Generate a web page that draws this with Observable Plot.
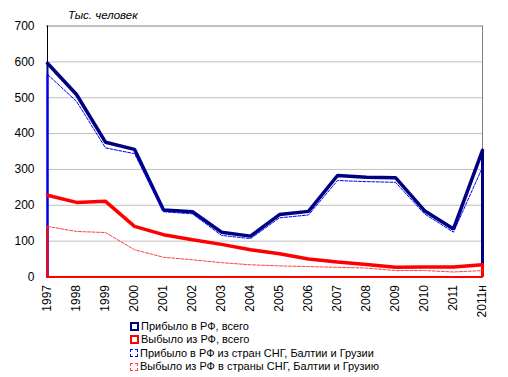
<!DOCTYPE html>
<html>
<head>
<meta charset="utf-8">
<script src="https://cdn.jsdelivr.net/npm/d3@7"></script>
<script src="https://cdn.jsdelivr.net/npm/@observablehq/plot@0.6"></script>
<style>
  body { margin: 0; background: #fff; font-family: "Liberation Sans", Arial, sans-serif; }
  #wrap { position: relative; width: 508px; height: 377px; }
  #unit { position: absolute; left: 68px; top: 9px; font-size: 11.5px; font-style: italic; color: #000; }
  #legend { position: absolute; left: 130px; top: 320px; font-size: 11px; line-height: 13px; color: #000; }
  .row { display: flex; align-items: center; height: 13.3px; white-space: nowrap; }
  .sw { width: 5px; height: 5px; margin-right: 2px; box-sizing: content-box; }
</style>
</head>
<body>
<div id="wrap">
  <div id="chart"></div>
  <div id="unit">Тыс. человек</div>
  <div id="legend"></div>
</div>
<script>
const years = ["1997","1998","1999","2000","2001","2002","2003","2004","2005","2006","2007","2008","2009","2010","2011","2011н"];
const arrivedTotal = [596,509,376,356,187,182,125,114,174,183,283,278,277,185,134,353];
const departedTotal = [228,208,211,141,118,104,91,76,65,50,42,35,27,28,28,34];
const arrivedCIS = [565,490,360,344,182,176,116,107,165,173,269,266,264,176,125,306];
const departedCIS = [141,127,124,76,55,48,40,34,31,29,27,25,18,18,14,18];
const yTicks = [0,100,200,300,400,500,600,700];
const seriesNames = [
  "Прибыло в РФ, всего",
  "Выбыло из РФ, всего",
  "Прибыло в РФ из стран СНГ, Балтии и Грузии",
  "Выбыло из РФ в страны СНГ, Балтии и Грузию"
];

const toRows = arr => arr.map((v, i) => ({year: years[i], v}));
const first = years[0], last = years[years.length - 1];

const chart = Plot.plot({
  width: 508,
  height: 320,
  marginLeft: 46,
  marginRight: 25.3,
  marginTop: 25.5,
  marginBottom: 43.5,
  style: {fontFamily: "'Liberation Sans', Arial, sans-serif", fontSize: "12px", color: "#000", background: "#fff"},
  x: {type: "point", domain: years, padding: 0, tickSize: 0, tickPadding: 8, tickRotate: -90, label: null},
  y: {domain: [0, 700], ticks: yTicks, tickSize: 0, tickPadding: 12, label: null},
  marks: [
    Plot.ruleY(yTicks.filter(t => t > 0 && t < 700), {stroke: "#c0c0c0", strokeWidth: 1}),
    Plot.ruleY([700], {stroke: "#808080", strokeWidth: 1}),
    Plot.ruleX([last], {stroke: "#808080", strokeWidth: 1}),
    Plot.ruleX([first], {stroke: "#000", strokeWidth: 1}),
    // edge drops
    Plot.ruleX([{year: first, v: arrivedTotal[0]}], {x: "year", y1: 0, y2: "v", stroke: "#000080", strokeWidth: 2}),
    Plot.ruleX([{year: last, v: arrivedTotal[15]}], {x: "year", y1: 0, y2: "v", stroke: "#000080", strokeWidth: 3}),
    Plot.ruleX([{year: first, v: arrivedCIS[0]}], {x: "year", y1: 0, y2: "v", stroke: "#0000ff", strokeWidth: 2}),
    Plot.ruleX([{year: first, v: departedCIS[0]}], {x: "year", y1: 0, y2: "v", stroke: "#ff0000", strokeWidth: 2}),
    Plot.ruleX([{year: last, v: departedTotal[15]}], {x: "year", y1: 0, y2: "v", stroke: "#ff0000", strokeWidth: 3}),
    Plot.ruleY([0], {stroke: "#ff0000", strokeWidth: 2}),
    // series
    Plot.line(toRows(arrivedTotal), {x: "year", y: "v", stroke: "#000080", strokeWidth: 3.5, strokeLinejoin: "miter"}),
    Plot.line(toRows(departedTotal), {x: "year", y: "v", stroke: "#ff0000", strokeWidth: 3.5, strokeLinejoin: "miter"}),
    Plot.line(toRows(arrivedCIS), {x: "year", y: "v", stroke: "#0000ff", strokeWidth: 1, strokeDasharray: "3,1.5"}),
    Plot.line(toRows(departedCIS), {x: "year", y: "v", stroke: "#ff4040", strokeWidth: 1, strokeDasharray: "3,1.5"})
  ]
});
document.getElementById("chart").appendChild(chart);

const swStyles = [
  "border:2px solid #000080",
  "border:2px solid #ff0000",
  "border:1px dashed #0000ff; width:6px; height:6px",
  "border:1px dashed #ff4040; width:6px; height:6px"
];
const legend = document.getElementById("legend");
seriesNames.forEach((name, i) => {
  const row = document.createElement("div");
  row.className = "row";
  const sw = document.createElement("span");
  sw.className = "sw";
  sw.style.cssText += swStyles[i];
  const t = document.createElement("span");
  t.textContent = name;
  row.appendChild(sw);
  row.appendChild(t);
  legend.appendChild(row);
});
</script>
</body>
</html>
